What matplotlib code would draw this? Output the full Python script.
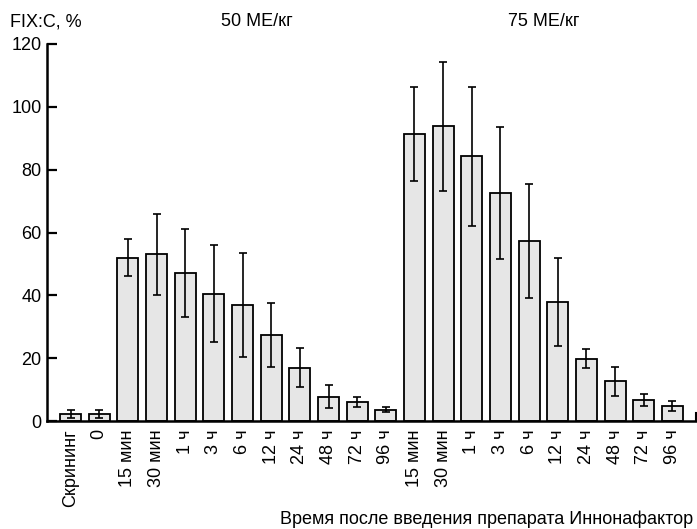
import matplotlib
matplotlib.use("Agg")
import matplotlib.pyplot as plt
import numpy as np

plt.rcParams['font.family'] = ['Liberation Sans', 'DejaVu Sans']

categories = ["Скрининг", "0",
              "15 мин", "30 мин", "1 ч", "3 ч", "6 ч", "12 ч", "24 ч", "48 ч", "72 ч", "96 ч",
              "15 мин", "30 мин", "1 ч", "3 ч", "6 ч", "12 ч", "24 ч", "48 ч", "72 ч", "96 ч"]
values = [2.2, 2.2,
          52.0, 53.0, 47.0, 40.5, 37.0, 27.4, 17.0, 7.7, 6.0, 3.6,
          91.4, 93.8, 84.2, 72.5, 57.3, 37.8, 19.8, 12.6, 6.7, 4.7]
errors = [1.4, 1.4,
          6.0, 13.0, 14.0, 15.5, 16.5, 10.3, 6.3, 3.6, 1.6, 0.8,
          15.0, 20.6, 22.0, 21.0, 18.0, 14.0, 3.0, 4.6, 2.0, 1.6]
yticks = [0, 20, 40, 60, 80, 100, 120]
group_labels = ["50 МЕ/кг", "75 МЕ/кг"]

fig = plt.figure(figsize=(6.97, 5.29), dpi=100)
ax = fig.add_axes([47/697, 1-421/529, 1-47/697-1/697, (421-44)/529])

x = np.arange(len(categories))
ax.bar(x, values, width=0.74, color='#e6e6e6', edgecolor='black', linewidth=1.3, zorder=2)
ax.errorbar(x, values, yerr=errors, fmt='none', ecolor='black', elinewidth=1.2,
            capsize=2.6, capthick=1.2, zorder=3)

ax.set_xlim(-0.82, len(categories) - 1 + 0.82)
ax.set_ylim(0, 120)
ax.set_yticks(yticks)
ax.set_xticks(x)
ax.set_xticklabels(categories, rotation=90, fontsize=13)
ax.tick_params(axis='x', length=0, pad=6)
ax.tick_params(axis='y', direction='in', length=7, width=1.6, labelsize=13, pad=4)
for s in ['top', 'right']:
    ax.spines[s].set_visible(False)
for s in ['left', 'bottom']:
    ax.spines[s].set_linewidth(1.8)
ax.axvline(ax.get_xlim()[1], ymin=0, ymax=0.02, color='black', linewidth=1.5, clip_on=False)

# group labels
ax.text(6.5, 1.0 + 22/377, group_labels[0], transform=ax.get_xaxis_transform(),
        ha='center', va='center', fontsize=13)
ax.text(16.5, 1.0 + 22/377, group_labels[1], transform=ax.get_xaxis_transform(),
        ha='center', va='center', fontsize=13)

fig.text(10/697, 1-22/529, "FIX:C, %", ha='left', va='center', fontsize=13)
fig.text(693/697, 1-519/529, "Время после введения препарата Иннонафактор",
         ha='right', va='center', fontsize=13)

fig.savefig("out.png", dpi=100)
